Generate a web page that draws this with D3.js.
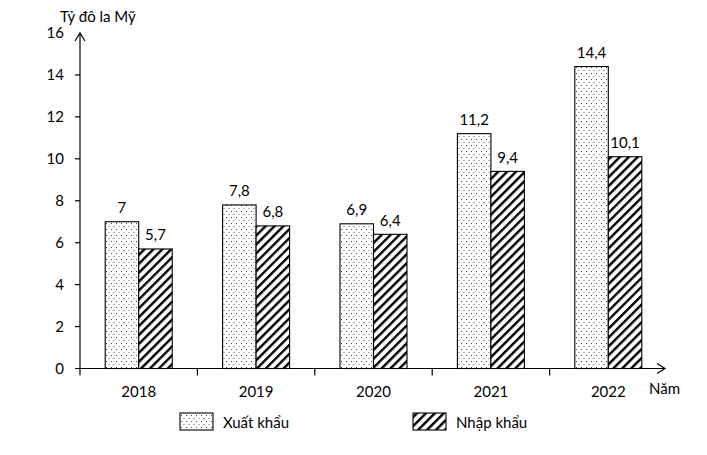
<!DOCTYPE html>
<html>
<head>
<meta charset="utf-8">
<script src="https://cdn.jsdelivr.net/npm/d3@7"></script>
<style>
  body { margin: 0; background: #fff; }
  svg { font-family: Lato, "Open Sans", sans-serif; }
</style>
</head>
<body>
<div id="chart"></div>
<script>
const years = ['2018', '2019', '2020', '2021', '2022'];
const xuatKhau = [7, 7.8, 6.9, 11.2, 14.4];
const nhapKhau = [5.7, 6.8, 6.4, 9.4, 10.1];
const yTicks = [0, 2, 4, 6, 8, 10, 12, 14, 16];
const seriesNames = ['Xuất khẩu', 'Nhập khẩu'];

const width = 707, height = 455;
const x0 = 80, x1 = 667, yTop = 33, yBottom = 368.5;

const svg = d3.select('#chart')
  .append('svg')
    .attr('width', width)
    .attr('height', height);

const defs = svg.append('defs');

// dotted fill
const dots = defs.append('pattern')
  .attr('id', 'dots')
  .attr('patternUnits', 'userSpaceOnUse')
  .attr('width', 5)
  .attr('height', 6);
dots.append('rect').attr('width', 5).attr('height', 6).attr('fill', '#fff');
dots.append('rect').attr('x', 1).attr('y', 1).attr('width', 1).attr('height', 1).attr('fill', '#444');
dots.append('rect').attr('x', 3.5).attr('y', 4).attr('width', 1).attr('height', 1).attr('fill', '#666');

// hatch fill
const hatch = defs.append('pattern')
  .attr('id', 'hatch')
  .attr('patternUnits', 'userSpaceOnUse')
  .attr('width', 6.3)
  .attr('height', 6.3)
  .attr('patternTransform', 'rotate(45)');
hatch.append('rect').attr('width', 6.3).attr('height', 6.3).attr('fill', '#fff');
hatch.append('rect').attr('x', 0).attr('width', 2.4).attr('height', 6.3).attr('fill', '#000');

const x = d3.scaleBand()
  .domain(years)
  .range([x0, x1]);

const y = d3.scaleLinear()
  .domain([0, 16])
  .range([yBottom, yTop]);

const barW = 33.5;
const fills = ['url(#dots)', 'url(#hatch)'];
const series = [xuatKhau, nhapKhau];
const fs = 15;

// axes
const axes = svg.append('g').attr('stroke', '#000').attr('stroke-width', 1.2).attr('fill', 'none');
axes.append('line').attr('x1', x0).attr('x2', x0).attr('y1', yBottom + 7).attr('y2', yTop);
axes.append('path').attr('d', `M${x0 - 5},${yTop + 8} L${x0},${yTop} L${x0 + 5},${yTop + 8}`);
axes.append('line').attr('x1', x0 - 5).attr('x2', x1 - 2).attr('y1', yBottom).attr('y2', yBottom);
axes.append('path').attr('d', `M${x1 - 10},${yBottom - 5} L${x1 - 2},${yBottom} L${x1 - 10},${yBottom + 5}`);

yTicks.slice(1, -1).forEach(t => {
  axes.append('line').attr('x1', x0 - 5).attr('x2', x0).attr('y1', y(t)).attr('y2', y(t));
});
years.slice(1).forEach(yr => {
  axes.append('line').attr('x1', x(yr)).attr('x2', x(yr)).attr('y1', yBottom).attr('y2', yBottom + 7);
});

svg.append('g').selectAll('text')
  .data(yTicks)
  .enter().append('text')
    .attr('x', x0 - 16)
    .attr('y', d => y(d))
    .attr('dy', '0.35em')
    .attr('text-anchor', 'end')
    .attr('font-size', fs)
    .text(d => d);

svg.append('g').selectAll('text')
  .data(years)
  .enter().append('text')
    .attr('x', d => x(d) + x.bandwidth() / 2)
    .attr('y', 392)
    .attr('dy', '0.35em')
    .attr('text-anchor', 'middle')
    .attr('font-size', fs)
    .text(d => d);

svg.append('text')
  .attr('x', 60).attr('y', 17).attr('dy', '0.35em')
  .attr('font-size', fs)
  .text('Tỷ đô la Mỹ');

svg.append('text')
  .attr('x', 649).attr('y', 389).attr('dy', '0.35em')
  .attr('font-size', fs)
  .text('Năm');

// bars
series.forEach((vals, s) => {
  const g = svg.append('g');
  const cx = d => x(d) + x.bandwidth() / 2 + (s === 0 ? -barW : 0);
  g.selectAll('rect')
    .data(years)
    .enter().append('rect')
      .attr('x', cx)
      .attr('y', (d, i) => y(vals[i]))
      .attr('width', barW)
      .attr('height', (d, i) => yBottom - y(vals[i]))
      .attr('fill', fills[s])
      .attr('stroke', '#000')
      .attr('stroke-width', 1.1);
  g.selectAll('text')
    .data(years)
    .enter().append('text')
      .attr('x', d => cx(d) + barW / 2)
      .attr('y', (d, i) => y(vals[i]) - 14)
      .attr('dy', '0.35em')
      .attr('text-anchor', 'middle')
      .attr('font-size', fs)
      .text((d, i) => String(vals[i]).replace('.', ','));
});

// legend
const legendX = [180, 413];
seriesNames.forEach((name, s) => {
  svg.append('rect')
    .attr('x', legendX[s]).attr('y', 413)
    .attr('width', 33).attr('height', 17)
    .attr('fill', fills[s])
    .attr('stroke', '#000')
    .attr('stroke-width', 1.1);
  svg.append('text')
    .attr('x', legendX[s] + 43).attr('y', 423).attr('dy', '0.35em')
    .attr('font-size', fs)
    .text(name);
});
</script>
</body>
</html>
